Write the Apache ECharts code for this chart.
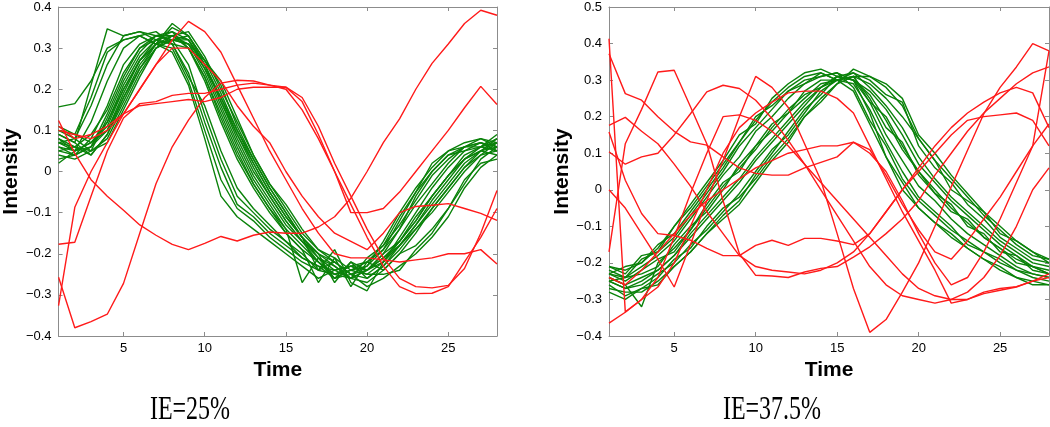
<!DOCTYPE html>
<html><head><meta charset="utf-8">
<script src="https://cdn.jsdelivr.net/npm/echarts@6/dist/echarts.min.js"></script>
<style>html,body{margin:0;padding:0;background:#fff}#c{width:1050px;height:427px}</style>
</head><body><div id="c"></div>
<script>
// ---------- data ----------
const time = [1,2,3,4,5,6,7,8,9,10,11,12,13,14,15,16,17,18,19,20,21,22,23,24,25,26,27,28];
const xTickValues = [5,10,15,20,25];
const panelTitles = ['IE=25%', 'IE=37.5%'];

// Left panel (IE=25%) - green profiles
const lG01 = [0.157,0.165,0.22,0.30,0.32,0.33,0.31,0.30,0.22,0.10,-0.02,-0.09,-0.12,-0.16,-0.19,-0.22,-0.24,-0.25,-0.23,-0.24,-0.20,-0.14,-0.06,0.00,0.04,0.06,0.07,0.05];
const lG02 = [0.09,0.07,0.21,0.347,0.33,0.34,0.32,0.31,0.24,0.12,0.01,-0.08,-0.11,-0.15,-0.18,-0.21,-0.23,-0.26,-0.24,-0.22,-0.19,-0.12,-0.05,0.02,0.05,0.06,0.06,0.07];
const lG03 = [0.10,0.08,0.16,0.26,0.33,0.34,0.33,0.32,0.26,0.14,0.03,-0.06,-0.10,-0.14,-0.17,-0.20,-0.24,-0.22,-0.25,-0.23,-0.17,-0.10,-0.04,0.01,0.05,0.07,0.08,0.06];
const lG04 = [0.07,0.05,0.12,0.22,0.30,0.33,0.34,0.31,0.23,0.16,0.05,-0.04,-0.09,-0.13,-0.17,-0.21,-0.23,-0.24,-0.26,-0.21,-0.18,-0.13,-0.07,-0.01,0.03,0.06,0.08,0.07];
const lG05 = [0.06,0.04,0.08,0.16,0.26,0.31,0.33,0.33,0.30,0.22,0.12,0.03,-0.04,-0.10,-0.15,-0.19,-0.27,-0.21,-0.28,-0.22,-0.24,-0.20,-0.18,-0.14,-0.09,-0.03,0.03,0.06];
const lG06 = [0.08,0.06,0.05,0.13,0.22,0.29,0.33,0.32,0.31,0.24,0.15,0.06,-0.02,-0.08,-0.14,-0.18,-0.22,-0.25,-0.26,-0.24,-0.20,-0.17,-0.12,-0.06,-0.01,0.03,0.05,0.06];
const lG07 = [0.05,0.04,0.06,0.10,0.19,0.27,0.32,0.34,0.32,0.26,0.17,0.08,0.00,-0.06,-0.12,-0.17,-0.20,-0.27,-0.22,-0.26,-0.23,-0.18,-0.13,-0.08,-0.03,0.02,0.05,0.08];
const lG08 = [0.09,0.07,0.04,0.09,0.17,0.25,0.31,0.35,0.33,0.27,0.19,0.10,0.02,-0.05,-0.11,-0.16,-0.20,-0.23,-0.26,-0.27,-0.24,-0.20,-0.15,-0.09,-0.04,0.01,0.04,0.05];
const lG09 = [0.04,0.03,0.05,0.07,0.15,0.23,0.30,0.33,0.34,0.28,0.20,0.12,0.04,-0.03,-0.09,-0.15,-0.19,-0.22,-0.25,-0.28,-0.26,-0.23,-0.20,-0.16,-0.11,-0.04,0.01,0.04];
const lG10 = [0.07,0.08,0.05,0.08,0.16,0.24,0.30,0.32,0.33,0.27,0.21,0.11,0.03,-0.04,-0.10,-0.16,-0.24,-0.19,-0.27,-0.29,-0.22,-0.18,-0.13,-0.07,-0.02,0.03,0.06,0.09];
const lG11 = [0.02,0.05,0.07,0.11,0.20,0.27,0.31,0.33,0.31,0.25,0.16,0.07,-0.01,-0.07,-0.13,-0.17,-0.21,-0.24,-0.23,-0.25,-0.22,-0.16,-0.10,-0.04,0.01,0.05,0.07,0.06];
const lG12 = [0.10,0.09,0.07,0.12,0.21,0.28,0.32,0.33,0.32,0.25,0.18,0.09,0.01,-0.06,-0.12,-0.17,-0.22,-0.25,-0.24,-0.23,-0.19,-0.14,-0.08,-0.03,0.02,0.06,0.07,0.05];
const lG13 = [0.06,0.05,0.06,0.14,0.23,0.30,0.32,0.31,0.30,0.23,0.14,0.05,-0.03,-0.09,-0.14,-0.27,-0.21,-0.26,-0.22,-0.24,-0.21,-0.17,-0.11,-0.06,-0.01,0.03,0.05,0.04];
const lG14 = [0.08,0.05,0.07,0.10,0.18,0.26,0.31,0.36,0.33,0.26,0.18,0.10,0.03,-0.04,-0.10,-0.16,-0.20,-0.22,-0.25,-0.26,-0.23,-0.19,-0.14,-0.10,-0.05,0.00,0.04,0.07];
const lG15 = [0.05,0.06,0.04,0.09,0.18,0.25,0.30,0.32,0.31,0.27,0.22,0.13,0.04,-0.03,-0.08,-0.14,-0.19,-0.21,-0.24,-0.25,-0.25,-0.24,-0.19,-0.15,-0.09,-0.02,0.02,0.03];
const lG16 = [0.11,0.09,0.18,0.29,0.32,0.33,0.31,0.29,0.21,0.08,-0.06,-0.11,-0.14,-0.17,-0.20,-0.23,-0.26,-0.24,-0.23,-0.22,-0.18,-0.11,-0.05,0.00,0.04,0.05,0.06,0.05];
const lG17 = [0.07,0.06,0.09,0.15,0.24,0.30,0.33,0.34,0.30,0.23,0.13,0.04,-0.03,-0.09,-0.15,-0.19,-0.22,-0.26,-0.25,-0.24,-0.22,-0.17,-0.12,-0.06,-0.01,0.04,0.06,0.08];
const lG18 = [0.03,0.04,0.06,0.12,0.20,0.27,0.31,0.32,0.32,0.26,0.17,0.09,0.02,-0.05,-0.11,-0.16,-0.21,-0.23,-0.26,-0.24,-0.21,-0.18,-0.14,-0.09,-0.04,0.01,0.05,0.07];

// Left panel - red profiles
const lR1 = [-0.257,-0.38,-0.365,-0.347,-0.272,-0.15,-0.03,0.06,0.125,0.18,0.215,0.222,0.22,0.21,0.20,0.15,0.08,0.0,-0.08,-0.16,-0.23,-0.28,-0.297,-0.296,-0.28,-0.22,-0.16,-0.09];
const lR2 = [-0.326,-0.087,0.0,0.07,0.14,0.20,0.26,0.32,0.365,0.34,0.29,0.21,0.13,0.05,-0.02,-0.09,-0.15,-0.20,-0.21,-0.21,-0.215,-0.22,-0.215,-0.21,-0.20,-0.20,-0.19,-0.225];
const lR3 = [0.124,0.044,-0.02,-0.06,-0.094,-0.13,-0.155,-0.177,-0.19,-0.175,-0.158,-0.169,-0.155,-0.147,-0.15,-0.15,-0.135,-0.11,-0.065,0.0,0.07,0.128,0.20,0.263,0.31,0.36,0.392,0.38];
const lR4 = [0.11,0.08,0.09,0.11,0.14,0.16,0.165,0.17,0.175,0.17,0.18,0.20,0.205,0.205,0.205,0.17,0.09,0.0,-0.10,-0.10,-0.09,-0.05,0.0,0.05,0.10,0.155,0.207,0.163];
const lR5 = [-0.177,-0.172,-0.06,0.05,0.13,0.165,0.17,0.185,0.19,0.19,0.20,0.21,0.215,0.21,0.205,0.18,0.11,0.02,-0.06,-0.14,-0.21,-0.26,-0.28,-0.283,-0.277,-0.236,-0.15,-0.046];
const lR6 = [0.10,0.09,0.08,0.10,0.14,0.20,0.26,0.30,0.30,0.26,0.22,0.16,0.11,0.07,0.0,-0.06,-0.11,-0.15,-0.17,-0.19,-0.15,-0.10,-0.085,-0.082,-0.078,-0.09,-0.102,-0.119];

// Right panel (IE=37.5%) - green
const rG01 = [-0.21,-0.23,-0.18,-0.17,-0.10,-0.04,0.02,0.08,0.15,0.18,0.25,0.29,0.32,0.33,0.31,0.30,0.21,0.09,0.0,-0.05,-0.09,-0.12,-0.16,-0.19,-0.21,-0.24,-0.25,-0.26];
const rG02 = [-0.23,-0.21,-0.20,-0.15,-0.12,-0.06,0.0,0.06,0.13,0.20,0.23,0.27,0.30,0.31,0.32,0.28,0.19,0.12,0.03,-0.03,-0.07,-0.11,-0.14,-0.17,-0.20,-0.22,-0.23,-0.24];
const rG03 = [-0.22,-0.24,-0.19,-0.17,-0.13,-0.07,-0.01,0.05,0.12,0.17,0.22,0.27,0.29,0.32,0.30,0.29,0.22,0.13,0.05,-0.02,-0.06,-0.10,-0.15,-0.17,-0.19,-0.22,-0.24,-0.25];
const rG04 = [-0.23,-0.24,-0.21,-0.18,-0.14,-0.08,-0.02,0.04,0.09,0.16,0.20,0.25,0.29,0.31,0.32,0.30,0.24,0.15,0.08,0.01,-0.03,-0.08,-0.12,-0.15,-0.18,-0.21,-0.23,-0.24];
const rG05 = [-0.24,-0.26,-0.32,-0.20,-0.16,-0.11,-0.05,0.01,0.06,0.11,0.17,0.22,0.26,0.28,0.31,0.30,0.26,0.19,0.11,0.05,0.0,-0.05,-0.09,-0.13,-0.16,-0.19,-0.21,-0.22];
const rG06 = [-0.25,-0.24,-0.23,-0.21,-0.15,-0.10,-0.06,0.0,0.07,0.12,0.16,0.21,0.27,0.30,0.30,0.31,0.25,0.17,0.13,0.04,-0.01,-0.04,-0.10,-0.12,-0.17,-0.18,-0.21,-0.23];
const rG07 = [-0.23,-0.25,-0.22,-0.19,-0.17,-0.11,-0.04,0.02,0.05,0.12,0.18,0.21,0.25,0.29,0.30,0.31,0.24,0.20,0.12,0.05,-0.01,-0.06,-0.08,-0.13,-0.16,-0.20,-0.21,-0.23];
const rG08 = [-0.25,-0.27,-0.25,-0.22,-0.18,-0.13,-0.08,-0.03,0.02,0.08,0.13,0.18,0.23,0.28,0.30,0.32,0.28,0.23,0.17,0.09,0.03,-0.02,-0.06,-0.10,-0.14,-0.17,-0.20,-0.21];
const rG09 = [-0.26,-0.29,-0.27,-0.24,-0.19,-0.16,-0.10,-0.05,-0.02,0.03,0.09,0.14,0.20,0.25,0.29,0.33,0.31,0.28,0.23,0.14,0.08,0.03,-0.02,-0.07,-0.11,-0.15,-0.18,-0.19];
const rG10 = [-0.27,-0.28,-0.28,-0.25,-0.21,-0.17,-0.12,-0.07,-0.03,0.04,0.10,0.16,0.22,0.26,0.31,0.32,0.30,0.26,0.24,0.12,0.06,0.02,-0.04,-0.08,-0.13,-0.16,-0.19,-0.20];
const rG11 = [-0.25,-0.27,-0.26,-0.23,-0.20,-0.15,-0.11,-0.06,-0.01,0.05,0.11,0.15,0.21,0.27,0.30,0.31,0.29,0.25,0.20,0.14,0.08,0.0,-0.03,-0.06,-0.12,-0.14,-0.17,-0.19];
const rG12 = [-0.28,-0.30,-0.27,-0.26,-0.21,-0.17,-0.12,-0.08,-0.04,0.02,0.08,0.13,0.20,0.24,0.29,0.31,0.31,0.29,0.25,0.15,0.10,0.04,-0.01,-0.06,-0.10,-0.14,-0.17,-0.20];
const rG13 = [-0.24,-0.26,-0.24,-0.22,-0.18,-0.12,-0.07,-0.02,0.03,0.09,0.14,0.19,0.24,0.28,0.31,0.30,0.27,0.22,0.15,0.07,0.02,-0.03,-0.07,-0.11,-0.15,-0.18,-0.22,-0.23];
const rG14 = [-0.21,-0.22,-0.20,-0.16,-0.10,-0.05,0.01,0.07,0.13,0.19,0.24,0.28,0.31,0.32,0.30,0.27,0.18,0.09,0.02,-0.05,-0.09,-0.13,-0.16,-0.19,-0.22,-0.24,-0.26,-0.26];

// Right panel - red
const rR1 = [0.413,-0.334,-0.30,-0.266,-0.20,-0.10,0.0,0.10,0.17,0.21,0.24,0.265,0.27,0.27,0.25,0.21,0.12,0.03,-0.06,-0.14,-0.22,-0.31,-0.30,-0.284,-0.275,-0.266,-0.25,-0.23];
const rR2 = [-0.17,0.126,0.22,0.322,0.327,0.227,0.126,-0.03,-0.175,-0.234,-0.236,-0.24,-0.225,-0.215,-0.21,-0.184,-0.156,-0.12,-0.08,-0.03,0.04,0.10,0.16,0.21,0.25,0.29,0.32,0.336];
const rR3 = [0.104,0.07,0.09,0.10,0.15,0.208,0.268,0.286,0.277,0.245,0.195,0.135,0.07,0.0,-0.07,-0.14,-0.21,-0.26,-0.29,-0.30,-0.31,-0.30,-0.28,-0.24,-0.18,-0.10,0.0,0.06];
const rR4 = [0.372,0.263,0.245,0.20,0.16,0.131,0.122,0.09,0.06,0.045,0.04,0.04,0.06,0.075,0.09,0.13,0.11,0.04,-0.04,-0.11,-0.17,-0.19,-0.14,-0.08,-0.02,0.05,0.12,0.18];
const rR5 = [0.0,-0.05,-0.12,-0.19,-0.266,-0.15,-0.03,0.08,0.20,0.31,0.28,0.225,0.126,0.026,-0.12,-0.27,-0.39,-0.355,-0.28,-0.20,-0.10,0.008,0.108,0.208,0.28,0.336,0.40,0.38];
const rR6 = [0.176,0.198,0.16,0.126,0.07,0.01,-0.06,-0.12,-0.18,-0.21,-0.22,-0.225,-0.23,-0.22,-0.20,-0.17,-0.12,-0.06,0.0,0.05,0.10,0.15,0.19,0.20,0.205,0.21,0.19,0.12];
const rR7 = [0.158,0.026,-0.065,-0.12,-0.125,-0.138,-0.16,-0.18,-0.18,-0.152,-0.138,-0.152,-0.133,-0.133,-0.14,-0.15,-0.12,-0.06,0.0,0.06,0.12,0.17,0.21,0.24,0.265,0.28,0.265,0.17];
const rR8 = [-0.365,-0.335,-0.30,-0.24,-0.13,-0.01,0.10,0.20,0.205,0.19,0.16,0.12,0.07,0.02,-0.03,-0.08,-0.13,-0.18,-0.23,-0.27,-0.29,-0.30,-0.30,-0.28,-0.27,-0.265,-0.25,-0.24];
const rR9 = [-0.24,-0.26,-0.22,-0.17,-0.12,-0.07,-0.03,0.0,0.03,0.06,0.08,0.10,0.11,0.12,0.12,0.13,0.10,0.05,-0.03,-0.12,-0.20,-0.26,-0.24,-0.17,-0.08,0.02,0.12,0.38];

const leftGreen = [lG01,lG02,lG03,lG04,lG05,lG06,lG07,lG08,lG09,lG10,lG11,lG12,lG13,lG14,lG15,lG16,lG17,lG18];
const leftRed = [lR1,lR2,lR3,lR4,lR5,lR6];
const rightGreen = [rG01,rG02,rG03,rG04,rG05,rG06,rG07,rG08,rG09,rG10,rG11,rG12,rG13,rG14];
const rightRed = [rR1,rR2,rR3,rR4,rR5,rR6,rR7,rR8,rR9];

// ---------- chart ----------
const GREEN = '#0a820a', RED = '#ff1a1a', AXIS = '#8c8c8c';
const FONT = '"Liberation Sans", Arial, Helvetica, sans-serif';
const fmtY = v => { const r = Math.round(v * 10) / 10; return (r === 0 ? '0' : String(r)).replace('-', '\u2212'); };

function line(arr, color, gi) {
  return { type: 'line', xAxisIndex: gi * 2, yAxisIndex: gi * 2,
    data: arr.map((v, i) => [time[i], v]), symbol: 'none', silent: true,
    lineStyle: { color: color, width: 1.4 }, itemStyle: { color: color },
    z: color === RED ? 3 : 2 };
}
function xAxes(gi) {
  const base = { type: 'value', gridIndex: gi, min: 1, max: 28, splitLine: { show: false },
    axisLine: { show: true, onZero: false, lineStyle: { color: AXIS, width: 1 } } };
  return [
    Object.assign({}, base, { position: 'bottom',
      axisTick: { show: true, inside: true, length: 4, customValues: xTickValues, lineStyle: { color: AXIS } },
      axisLabel: { show: true, customValues: xTickValues, color: '#000', fontSize: 13, fontFamily: FONT, margin: 6 },
      name: 'Time', nameLocation: 'middle', nameGap: 18,
      nameTextStyle: { color: '#000', fontSize: 21, fontWeight: 'bold', fontFamily: FONT } }),
    Object.assign({}, base, { position: 'top',
      axisTick: { show: true, inside: true, length: 4, customValues: xTickValues, lineStyle: { color: AXIS } },
      axisLabel: { show: false } })
  ];
}
function yAxes(gi, max) {
  const base = { type: 'value', gridIndex: gi, min: -0.4, max: max, interval: 0.1, splitLine: { show: false },
    axisLine: { show: true, onZero: false, lineStyle: { color: AXIS, width: 1 } },
    axisTick: { show: true, inside: true, length: 4, lineStyle: { color: AXIS } } };
  return [
    Object.assign({}, base, { position: 'left',
      axisLabel: { show: true, formatter: fmtY, color: '#000', fontSize: 13, fontFamily: FONT, margin: 7 },
      name: 'Intensity', nameLocation: 'middle', nameGap: 36,
      nameTextStyle: { color: '#000', fontSize: 21, fontWeight: 'bold', fontFamily: FONT } }),
    Object.assign({}, base, { position: 'right', axisLabel: { show: false } })
  ];
}

const series = [];
leftGreen.forEach(a => series.push(line(a, GREEN, 0)));
leftRed.forEach(a => series.push(line(a, RED, 0)));
rightGreen.forEach(a => series.push(line(a, GREEN, 1)));
rightRed.forEach(a => series.push(line(a, RED, 1)));

const chart = echarts.init(document.getElementById('c'), null, { renderer: 'canvas' });
chart.setOption({
  animation: false,
  backgroundColor: '#fff',
  grid: [
    { left: 57, top: 7, width: 440, height: 329 },
    { left: 609, top: 7, width: 440, height: 329 }
  ],
  xAxis: [].concat(xAxes(0), xAxes(1)),
  yAxis: [].concat(yAxes(0, 0.4), yAxes(1, 0.5)),
  series: series,
  graphic: [
    { type: 'text', x: 190, y: 410, scaleY: 1.42,
      style: { text: panelTitles[0], x: 0, y: 0, textAlign: 'center', textVerticalAlign: 'middle',
        font: '24px "Liberation Serif", "Times New Roman", serif', fill: '#000' } },
    { type: 'text', x: 772, y: 410, scaleY: 1.42,
      style: { text: panelTitles[1], x: 0, y: 0, textAlign: 'center', textVerticalAlign: 'middle',
        font: '24px "Liberation Serif", "Times New Roman", serif', fill: '#000' } }
  ]
});
</script>
</body></html>
